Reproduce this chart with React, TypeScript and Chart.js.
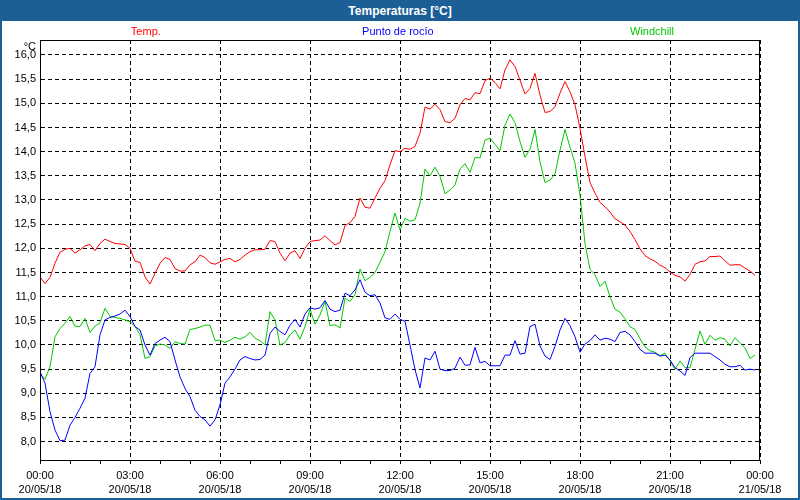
import React, { useEffect, useRef } from 'react';
import { Chart, registerables } from 'chart.js';

Chart.register(...registerables);

const TITLE = 'Temperaturas [°C]';
const Y_UNIT = '°C';
const SAMPLE_MINUTES = 10;
const SERIES_NAMES = ['Temp.', 'Punto de rocío', 'Windchill'];
const SERIES_COLORS = ['#ff0000', '#0000ff', '#00c800'];

const TICK_TIMES = ['00:00', '03:00', '06:00', '09:00', '12:00', '15:00', '18:00', '21:00', '00:00'];
const TICK_DATES = ['20/05/18', '20/05/18', '20/05/18', '20/05/18', '20/05/18', '20/05/18', '20/05/18', '20/05/18', '21/05/18'];

const TEMP = [
  11.41, 11.27, 11.40, 11.69, 11.92, 11.98, 12.00, 11.90, 11.97, 12.05,
  12.08, 11.95, 12.10, 12.19, 12.14, 12.10, 12.09, 12.08, 12.00, 11.73,
  11.71, 11.41, 11.26, 11.48, 11.69, 11.81, 11.77, 11.58, 11.53, 11.53,
  11.66, 11.72, 11.86, 11.81, 11.70, 11.67, 11.72, 11.77, 11.79, 11.72,
  11.77, 11.86, 11.93, 11.97, 11.97, 11.98, 12.16, 12.14, 11.90, 11.74,
  11.90, 11.95, 11.79, 12.00, 12.14, 12.16, 12.17, 12.26, 12.16, 12.07,
  12.12, 12.47, 12.53, 12.66, 13.04, 12.85, 12.83, 13.04, 13.24, 13.40,
  13.73, 14.02, 14.00, 14.07, 14.05, 14.11, 14.38, 14.92, 14.88, 14.98,
  14.87, 14.62, 14.60, 14.69, 14.97, 15.10, 15.07, 15.22, 15.20, 15.47,
  15.52, 15.43, 15.30, 15.69, 15.90, 15.76, 15.48, 15.19, 15.31, 15.62,
  15.17, 14.81, 14.83, 14.93, 15.21, 15.45, 15.24, 14.97, 14.48, 13.90,
  13.36, 13.14, 12.95, 12.86, 12.75, 12.61, 12.55, 12.48, 12.35, 12.18,
  11.99, 11.85, 11.78, 11.73, 11.65, 11.60, 11.51, 11.44, 11.41, 11.32,
  11.46, 11.67, 11.72, 11.74, 11.83, 11.83, 11.84, 11.74, 11.65, 11.66,
  11.66, 11.59, 11.53, 11.44,
];

const DEW_POINT = [
  9.45, 9.21, 8.62, 8.24, 8.02, 8.03, 8.34, 8.50, 8.69, 8.90,
  9.41, 9.55, 10.21, 10.52, 10.57, 10.60, 10.64, 10.72, 10.59, 10.38,
  10.31, 10.00, 9.79, 10.03, 10.10, 10.16, 10.07, 9.69, 9.34, 9.10,
  8.93, 8.65, 8.52, 8.45, 8.32, 8.45, 8.76, 9.21, 9.34, 9.50,
  9.69, 9.76, 9.72, 9.69, 9.70, 9.79, 10.24, 10.37, 10.28, 10.21,
  10.41, 10.53, 10.37, 10.64, 10.77, 10.74, 10.77, 10.92, 10.74, 10.69,
  10.72, 11.07, 11.02, 11.14, 11.35, 11.09, 11.02, 11.04, 10.87, 10.56,
  10.53, 10.64, 10.53, 10.49, 10.00, 9.49, 9.11, 9.73, 9.69, 9.87,
  9.50, 9.47, 9.47, 9.52, 9.75, 9.58, 9.59, 9.95, 9.63, 9.66,
  9.57, 9.57, 9.57, 9.79, 9.79, 10.09, 9.81, 9.83, 10.38, 10.43,
  9.98, 9.77, 9.70, 9.97, 10.31, 10.55, 10.40, 10.17, 9.85, 10.02,
  10.09, 10.21, 10.10, 10.14, 10.12, 10.07, 10.26, 10.28, 10.21, 10.07,
  9.91, 9.83, 9.83, 9.83, 9.77, 9.79, 9.69, 9.53, 9.46, 9.37,
  9.74, 9.83, 9.83, 9.83, 9.83, 9.76, 9.69, 9.60, 9.55, 9.55,
  9.58, 9.48, 9.50, 9.48,
];

const WINDCHILL = [
  9.40, 9.29, 9.55, 10.17, 10.34, 10.45, 10.59, 10.39, 10.38, 10.55,
  10.26, 10.39, 10.46, 10.76, 10.59, 10.57, 10.55, 10.52, 10.48, 10.39,
  10.21, 9.72, 9.76, 9.98, 10.02, 10.00, 9.93, 10.07, 10.03, 10.02,
  10.32, 10.34, 10.37, 10.41, 10.41, 10.09, 10.10, 10.05, 10.10, 10.16,
  10.12, 10.17, 10.26, 10.14, 10.09, 10.00, 10.69, 10.52, 10.00, 10.05,
  10.21, 10.31, 10.12, 10.38, 10.74, 10.43, 10.62, 10.90, 10.40, 10.42,
  10.35, 10.97, 10.90, 11.04, 11.57, 11.33, 11.40, 11.50, 11.71, 11.93,
  12.35, 12.73, 12.38, 12.62, 12.56, 12.59, 12.93, 13.64, 13.50, 13.68,
  13.49, 13.13, 13.21, 13.31, 13.64, 13.75, 13.57, 13.88, 13.87, 14.24,
  14.28, 14.15, 14.02, 14.55, 14.78, 14.60, 14.21, 13.88, 14.05, 14.46,
  13.79, 13.36, 13.41, 13.54, 14.03, 14.46, 14.09, 13.76, 13.10, 12.10,
  11.56, 11.46, 11.21, 11.32, 11.00, 10.74, 10.68, 10.54, 10.38, 10.32,
  10.13, 9.96, 9.88, 9.85, 9.78, 9.83, 9.67, 9.50, 9.67, 9.53,
  9.53, 9.91, 10.29, 10.01, 10.20, 10.10, 10.15, 10.12, 9.98, 10.15,
  10.05, 9.94, 9.72, 9.79,
];

const FONT_FAMILY = '"Liberation Sans", Arial, sans-serif';
const FRAME_BLUE = '#1c5e96';

const toPoints = (values: number[]) =>
  values.map((v, i) => ({ x: (i * SAMPLE_MINUTES) / 60, y: v }));

const decorPlugin = {
  id: 'decor',
  afterDraw(chart: any) {
    const { ctx, chartArea } = chart;
    const { left, top, right, bottom } = chartArea;
    ctx.save();
    // plot frame
    ctx.strokeStyle = '#000';
    ctx.lineWidth = 1;
    ctx.setLineDash([]);
    ctx.strokeRect(Math.round(left) + 0.5, Math.round(top) + 0.5, Math.round(right - left) - 1, Math.round(bottom - top));
    // unit label
    ctx.font = `11px ${FONT_FAMILY}`;
    ctx.fillStyle = '#000';
    ctx.textAlign = 'right';
    ctx.textBaseline = 'middle';
    ctx.fillText(Y_UNIT, left - 4, top + 7);
    // legend text
    const fracs = [0.147, 0.497, 0.85];
    ctx.textAlign = 'center';
    chart.data.datasets.forEach((ds: any, i: number) => {
      ctx.fillStyle = ds.borderColor;
      ctx.fillText(ds.label, left + (right - left) * fracs[i], 11);
    });
    ctx.restore();
  },
};

export default function App() {
  const canvasRef = useRef<HTMLCanvasElement | null>(null);

  useEffect(() => {
    if (!canvasRef.current) return;
    const seriesValues = [TEMP, DEW_POINT, WINDCHILL];
    const chart = new Chart(canvasRef.current, {
      type: 'line',
      data: {
        datasets: seriesValues.map((vals, i) => ({
          label: SERIES_NAMES[i],
          data: toPoints(vals),
          borderColor: SERIES_COLORS[i],
          backgroundColor: SERIES_COLORS[i],
          borderWidth: 1,
          pointRadius: 0,
          tension: 0,
          fill: false,
        })),
      },
      options: {
        animation: false,
        responsive: true,
        maintainAspectRatio: false,
        layout: { padding: { top: 19, right: 38, left: 0, bottom: 0 } },
        plugins: {
          legend: { display: false },
          tooltip: { enabled: false },
          title: { display: false },
        },
        scales: {
          x: {
            type: 'linear',
            min: 0,
            max: 24,
            afterFit: (scale: any) => {
              scale.height = 38;
            },
            ticks: {
              stepSize: 1,
              autoSkip: false,
              maxRotation: 0,
              padding: 5,
              color: '#000',
              font: { family: FONT_FAMILY, size: 11, lineHeight: 1.3 },
              callback: (value: any) => {
                const v = Number(value);
                if (v % 3 !== 0) return '';
                const k = v / 3;
                return [TICK_TIMES[k], TICK_DATES[k]];
              },
            },
            grid: {
              color: (ctx: any) => (ctx.tick && ctx.tick.value % 3 === 0 ? '#000' : 'rgba(0,0,0,0)'),
              lineWidth: 1,
              drawTicks: true,
              tickLength: 4,
              tickColor: '#000',
              tickWidth: 1,
            },
            border: { display: true, color: '#000', width: 1, dash: [4, 3] },
          },
          y: {
            type: 'linear',
            min: 7.62,
            max: 16.31,
            afterFit: (scale: any) => {
              scale.width = 38;
            },
            ticks: {
              stepSize: 0.5,
              includeBounds: false,
              padding: 4,
              color: '#000',
              font: { family: FONT_FAMILY, size: 11 },
              callback: (value: any) => Number(value).toFixed(1).replace('.', ','),
            },
            grid: {
              color: '#000',
              lineWidth: 1,
              drawTicks: false,
            },
            border: { display: true, color: '#000', width: 1, dash: [4, 3] },
          },
        },
      },
      plugins: [decorPlugin],
    } as any);
    return () => chart.destroy();
  }, []);

  return (
    <div
      style={{
        position: 'absolute',
        left: 0,
        top: 0,
        width: 800,
        height: 500,
        boxSizing: 'border-box',
        border: `2px solid ${FRAME_BLUE}`,
        background: '#fff',
        overflow: 'hidden',
      }}
    >
      <div
        style={{
          height: 19,
          background: FRAME_BLUE,
          color: '#fff',
          fontFamily: FONT_FAMILY,
          fontWeight: 'bold',
          fontSize: 12,
          lineHeight: '18px',
          textAlign: 'center',
        }}
      >
        {TITLE}
      </div>
      <div style={{ position: 'relative', width: 796, height: 477 }}>
        <canvas ref={canvasRef} />
      </div>
    </div>
  );
}
